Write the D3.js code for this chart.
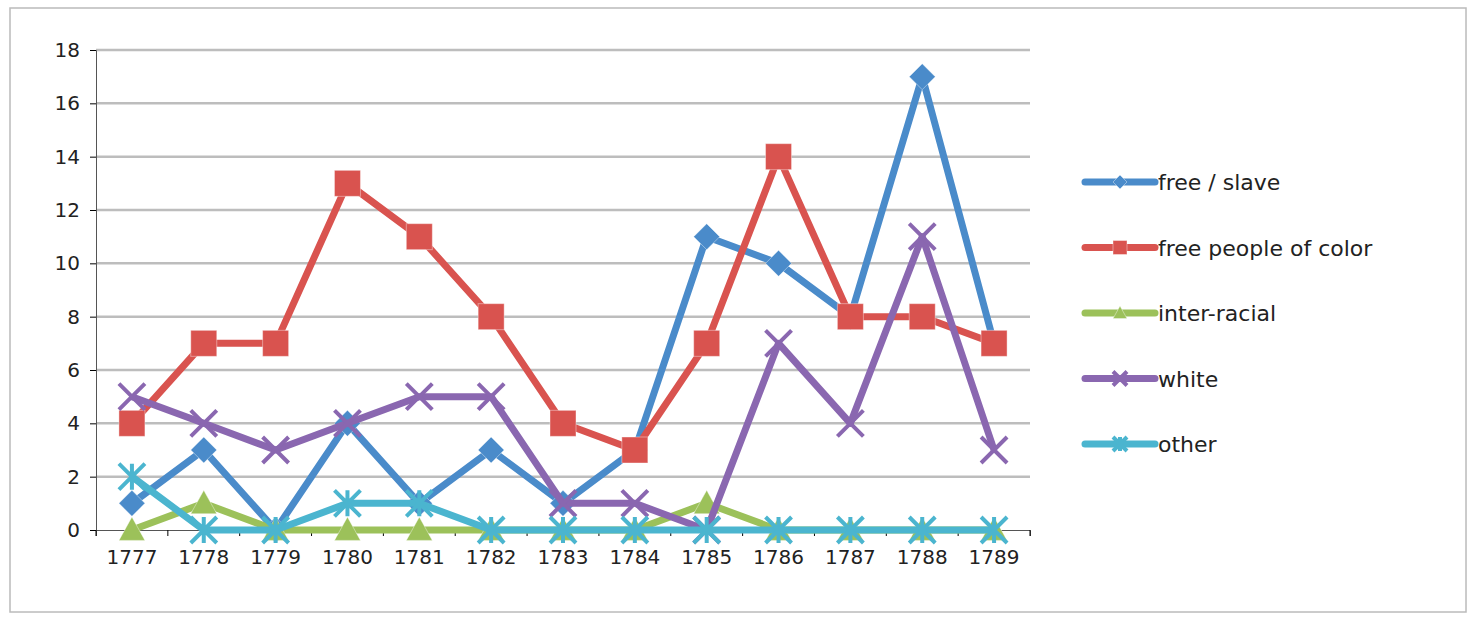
<!DOCTYPE html>
<html><head><meta charset="utf-8">
<script src="https://cdn.jsdelivr.net/npm/d3@7"></script>
<style>body{margin:0;background:#fff}text{font-family:"DejaVu Sans",sans-serif;fill:#222}</style>
</head><body>
<svg id="chart" width="1478" height="620"></svg>
<script>
// data
var years = [1777,1778,1779,1780,1781,1782,1783,1784,1785,1786,1787,1788,1789];
var freeSlave = [1,3,0,4,1,3,1,3,11,10,8,17,7];
var freeColor = [4,7,7,13,11,8,4,3,7,14,8,8,7];
var interRacial = [0,1,0,0,0,0,0,0,1,0,0,0,0];
var white = [5,4,3,4,5,5,1,1,0,7,4,11,3];
var other = [2,0,0,1,1,0,0,0,0,0,0,0,0];
var yTicks = [0,2,4,6,8,10,12,14,16,18];

var series = [
  {name:"free / slave", values:freeSlave, color:"#4a8bca", marker:"diamond"},
  {name:"free people of color", values:freeColor, color:"#d9534f", marker:"square"},
  {name:"inter-racial", values:interRacial, color:"#9cc15a", marker:"triangle"},
  {name:"white", values:white, color:"#8a67b0", marker:"x"},
  {name:"other", values:other, color:"#4bb5cf", marker:"star"}
];

var svg = d3.select("#chart");
svg.append("rect").attr("x",10).attr("y",8).attr("width",1456).attr("height",604)
  .attr("fill","#fff").attr("stroke","#bbb").attr("stroke-width",1.5);

var x = d3.scaleBand().domain(years).range([96,1030]);
var y = d3.scaleLinear().domain([0,18]).range([530,50]);

// gridlines
svg.append("g").selectAll("line").data(yTicks.slice(1)).enter().append("line")
  .attr("x1",96).attr("x2",1030).attr("y1",y).attr("y2",y)
  .attr("stroke","#bdbdbd").attr("stroke-width",2.5);

var yAxis = svg.append("g").attr("transform","translate(96,0)")
  .call(d3.axisLeft(y).tickValues(yTicks).tickSize(6).tickPadding(10));
var xAxis = svg.append("g").attr("transform","translate(0,530)")
  .call(d3.axisBottom(x).tickSize(6).tickPadding(14));
xAxis.selectAll(".tick line").attr("transform","translate(" + (-x.bandwidth()/2) + ",0)");
xAxis.append("line").attr("x1",1030).attr("x2",1030).attr("y1",0).attr("y2",6).attr("stroke","#000");
svg.selectAll(".domain").attr("stroke","#555");
svg.selectAll(".tick text").style("font-size","20px").attr("fill","#222");

var cx = function(d, i){ return x(years[i]) + x.bandwidth()/2; };
var line = d3.line().x(cx).y(function(d){ return y(d); });

function drawMarker(g, type, color, s){
  if (type == "diamond") g.append("path").attr("d","M0,-"+s+" L"+s+",0 L0,"+s+" L-"+s+",0 Z").attr("fill",color).attr("stroke","#fff").attr("stroke-opacity",0.4);
  else if (type == "square") g.append("rect").attr("x",-s).attr("y",-s).attr("width",2*s).attr("height",2*s).attr("fill",color).attr("stroke","#fff").attr("stroke-opacity",0.4);
  else if (type == "triangle") g.append("path").attr("d","M0,-"+s+" L"+s+","+(s*0.8)+" L-"+s+","+(s*0.8)+" Z").attr("fill",color).attr("stroke","#fff").attr("stroke-opacity",0.4);
  else if (type == "x") g.append("path").attr("d","M-"+s+",-"+s+" L"+s+","+s+" M"+s+",-"+s+" L-"+s+","+s).attr("stroke",color).attr("stroke-width",4);
  else g.append("path").attr("d","M-"+s+",-"+s+" L"+s+","+s+" M"+s+",-"+s+" L-"+s+","+s+" M0,-"+s+" L0,"+s).attr("stroke",color).attr("stroke-width",4);
}

series.forEach(function(s){
  svg.append("path").datum(s.values).attr("d",line).attr("fill","none")
    .attr("stroke",s.color).attr("stroke-width",7).attr("stroke-linejoin","round");
  s.values.forEach(function(v,i){
    var g = svg.append("g").attr("transform","translate(" + cx(v,i) + "," + y(v) + ")");
    drawMarker(g, s.marker, s.color, 13);
  });
});

// legend
var lg = svg.append("g").attr("transform","translate(1085,182)");
series.forEach(function(s,i){
  var r = lg.append("g").attr("transform","translate(0," + (i*65.5) + ")");
  r.append("line").attr("x1",0).attr("x2",70).attr("stroke",s.color).attr("stroke-width",7).attr("stroke-linecap","round");
  var m = r.append("g").attr("transform","translate(35,0)");
  drawMarker(m, s.marker, s.color, 7);
  r.append("text").attr("x",73).attr("y",8).style("font-size","22px").text(s.name);
});
</script>
</body></html>
